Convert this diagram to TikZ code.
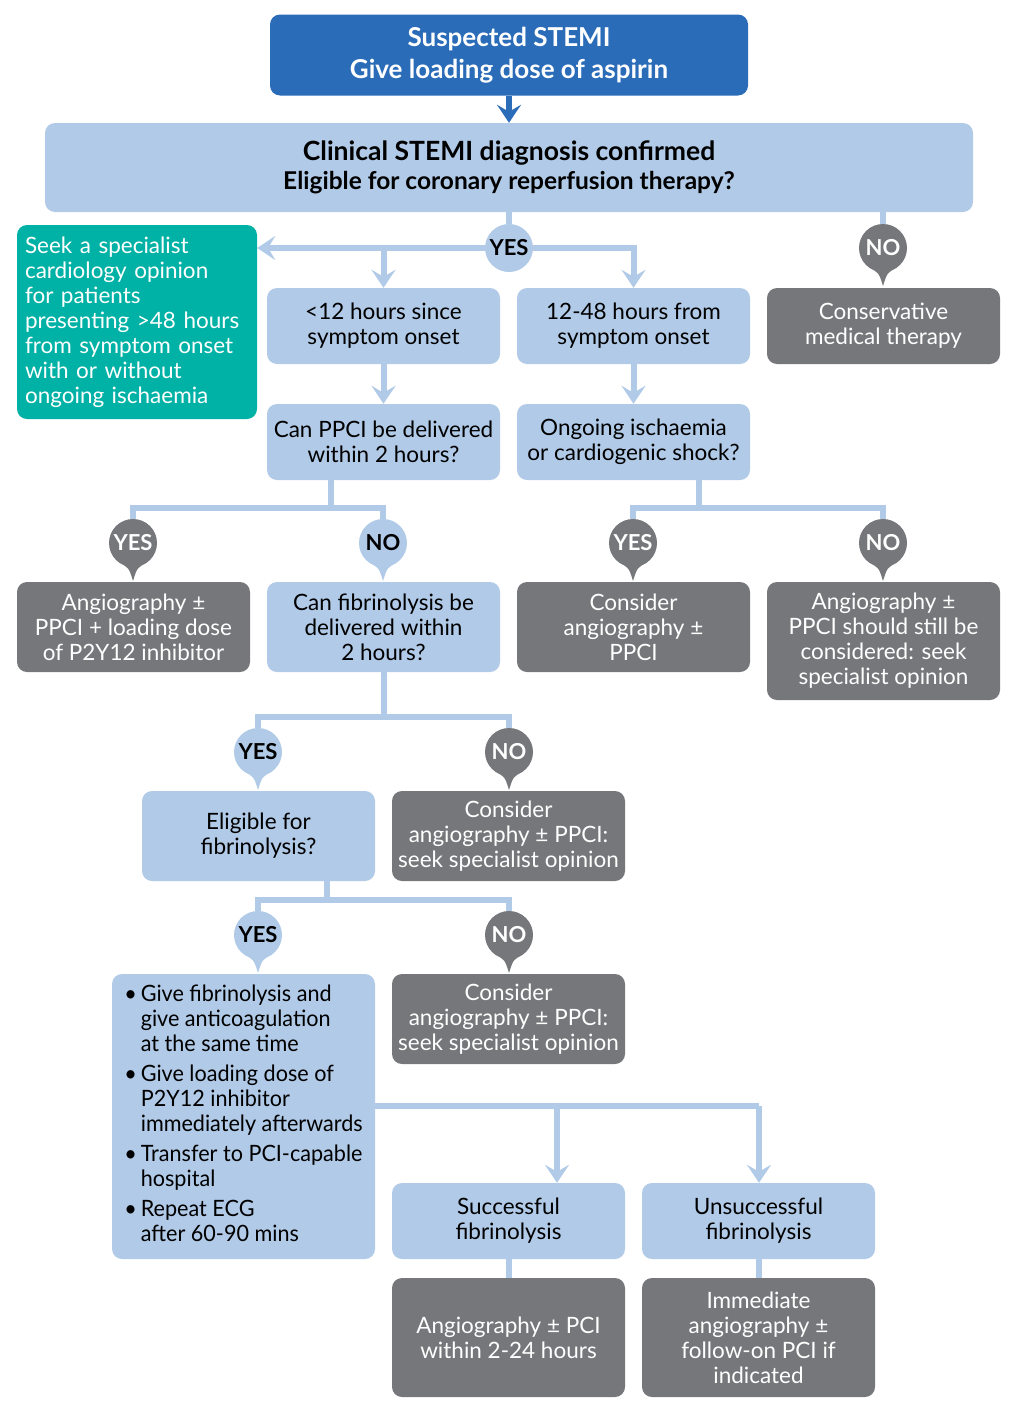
\documentclass[tikz,border=0pt]{standalone}
\usepackage{fontspec}
\setmainfont{Lato}
\newfontfamily\narrowfont{Lato}[FakeStretch=0.96]
\usetikzlibrary{arrows.meta,calc,backgrounds}
\definecolor{stemiblue}{HTML}{2B6CB9}
\definecolor{paleblue}{HTML}{B0CAE7}
\definecolor{slate}{HTML}{76777A}
\definecolor{seagreen}{HTML}{00B1A6}
\tikzset{
	box/.style={rounded corners=10pt, align=center, inner sep=4pt, font=\fontsize{22.5}{25}\selectfont},
	lbox/.style={box, fill=paleblue, text=black},
	gbox/.style={box, fill=slate, text=white},
	conn/.style={draw=paleblue, line width=6pt},
	arr/.style={-{Stealth[length=18pt,width=24pt,inset=7pt]}},
	ball/.style={circle, minimum size=48pt, inner sep=0pt, font=\fontsize{22}{22}\selectfont\bfseries},
}
\newcommand{\tagball}[5]{%
	\node[ball, fill=#3, text=#4] (#1) at (#2) {#5};
	\fill[#3] ($(#1.center)+(-14,19)$) .. controls ($(#1.center)+(-4,25)$) .. ($(#1.center)+(0,38)$)
		.. controls ($(#1.center)+(4,25)$) .. ($(#1.center)+(14,19)$) -- cycle;}

\begin{document}
\begin{tikzpicture}[x=1pt, y=-1pt]
	\useasboundingbox (0,0) rectangle (1019,1424);
	
	%%%%% top of the chart %%%%%
	\node[box, fill=stemiblue, text=white, font=\fontsize{26}{32}\selectfont\bfseries,
		minimum width=478pt, minimum height=81pt] (top) at (509, 55)
		{Suspected STEMI\\Give loading dose of aspirin};
	\node[lbox, minimum width=928pt, minimum height=89pt] (main) at (509, 167.5)
		{\fontsize{26.5}{30}\selectfont\bfseries Clinical STEMI diagnosis confirmed\\[4pt]
		 \fontsize{24.5}{30}\selectfont\bfseries Eligible for coronary reperfusion therapy?};
	
	\node[box, fill=seagreen, text=white, align=left, text width=224pt, inner xsep=8pt,
		minimum height=194pt] (teal) at (137, 322)
		{Seek a specialist\\cardiology opinion\\for patients\\presenting >48 hours\\from symptom onset\\with or without\\ongoing ischaemia};
	
	%%%%% first row %%%%%
	\node[lbox, minimum width=233pt, minimum height=76pt] (b1) at (383.5, 326) {<12 hours since\\symptom onset};
	\node[lbox, minimum width=233pt, minimum height=76pt] (b2) at (633.5, 326) {12-48 hours from\\symptom onset};
	\node[gbox, minimum width=233pt, minimum height=76pt] (cons) at (883.5, 326) {Conservative\\medical therapy};
	
	\node[lbox, minimum width=233pt, minimum height=76pt] (b3) at (383.5, 442) {Can PPCI be delivered\\within 2 hours?};
	\node[lbox, minimum width=233pt, minimum height=76pt] (b4) at (633.5, 442) {Ongoing ischaemia\\or cardiogenic shock?};
	
	%%%%% second row %%%%%
	\node[gbox, minimum width=233pt, minimum height=90pt] (b5) at (133.5, 627) {Angiography ±\\PPCI + loading dose\\of P2Y12 inhibitor};
	\node[lbox, minimum width=233pt, minimum height=90pt] (b6) at (383.5, 627) {Can fibrinolysis be\\delivered within\\2 hours?};
	\node[gbox, minimum width=233pt, minimum height=90pt] (b7) at (633.5, 627) {Consider\\angiography ±\\PPCI};
	\node[gbox, minimum width=233pt, minimum height=118pt] (b8) at (883.5, 641) {Angiography ±\\PPCI should still be\\considered: seek\\specialist opinion};
	
	%%%%% third row %%%%%
	\node[lbox, minimum width=233pt, minimum height=90pt] (b9) at (258.5, 836) {Eligible for\\fibrinolysis?};
	\node[gbox, minimum width=233pt, minimum height=90pt] (b10) at (508.5, 836) {Consider\\angiography ± PPCI:\\seek specialist opinion};
	
	\node[lbox, minimum width=263pt, minimum height=285pt] (b11) at (243.5, 1116.5)
		{\narrowfont\begin{tabular}{@{}l@{\hspace{4pt}}l@{}}
			\textbullet & Give fibrinolysis and\\
			& give anticoagulation\\
			& at the same time\\[5pt]
			\textbullet & Give loading dose of\\
			& P2Y12 inhibitor\\
			& immediately afterwards\\[5pt]
			\textbullet & Transfer to PCI-capable\\
			& hospital\\[5pt]
			\textbullet & Repeat ECG\\
			& after 60-90 mins
		\end{tabular}};
	\node[gbox, minimum width=233pt, minimum height=90pt] (b12) at (508.5, 1019) {Consider\\angiography ± PPCI:\\seek specialist opinion};
	
	\node[lbox, minimum width=233pt, minimum height=76pt] (b13) at (508.5, 1221) {Successful\\fibrinolysis};
	\node[lbox, minimum width=233pt, minimum height=76pt] (b14) at (758.5, 1221) {Unsuccessful\\fibrinolysis};
	\node[gbox, minimum width=233pt, minimum height=119pt] (b15) at (508.5, 1337.5) {Angiography ± PCI\\within 2-24 hours};
	\node[gbox, minimum width=233pt, minimum height=119pt] (b16) at (758.5, 1337.5) {Immediate\\angiography ±\\follow-on PCI if\\indicated};
	
	%%%%% yes / no tags %%%%%
	\node[ball, fill=paleblue] (yes0) at (509, 248) {YES};
	\tagball{no0}{883,248}{slate}{white}{NO}
	\tagball{yes1}{133,543}{slate}{white}{YES}
	\tagball{no1}{383,543}{paleblue}{black}{NO}
	\tagball{yes2}{633,543}{slate}{white}{YES}
	\tagball{no2}{883,543}{slate}{white}{NO}
	\tagball{yes3}{258,752}{paleblue}{black}{YES}
	\tagball{no3}{509,752}{slate}{white}{NO}
	\tagball{yes4}{258,935}{paleblue}{black}{YES}
	\tagball{no4}{509,935}{slate}{white}{NO}
	
	\coordinate (j3) at (331, 508);
	\coordinate (j4) at (699, 508);
	\coordinate (j6) at (383.5, 717);
	\coordinate (j9) at (327, 900);
	\coordinate (j11) at (759, 1106);
	\coordinate (k11) at (557, 1106);
	
	%%%%% connectors %%%%%
	\begin{scope}[on background layer]
		\draw[conn, draw=stemiblue, arr] (top.south -| main) -- (main);
		\draw[conn] (main.south) -- (yes0);
		\draw[conn, arr] (yes0) -- (teal.east |- yes0);
		\draw[conn, arr] (yes0) -| (b2);
		\draw[conn, arr] (b1 |- yes0) -- (b1);
		\draw[conn] (main.south -| no0) -- (no0);
		\draw[conn, arr] (b1) -- (b3);
		\draw[conn, arr] (b2) -- (b4);
		
		\draw[conn] (j3 |- b3.south) -- (j3) -| (yes1);
		\draw[conn] (j3) -| (no1);
		\draw[conn] (j4 |- b4.south) -- (j4) -| (yes2);
		\draw[conn] (j4) -| (no2);
		
		\draw[conn] (b6.south) -- (j6) -| (yes3);
		\draw[conn] (j6) -| (no3);
		\draw[conn] (j9 |- b9.south) -- (j9) -| (yes4);
		\draw[conn] (j9) -| (no4);
		
		\draw[conn] (b11.east |- j11) -- (j11);
		\draw[conn, arr] (j11) -- (j11 |- b14.north);
		\draw[conn, arr] (k11) -- (k11 |- b13.north);
		\draw[conn] (b13) -- (b15);
		\draw[conn] (b14) -- (b16);
	\end{scope}
\end{tikzpicture}
\end{document}
